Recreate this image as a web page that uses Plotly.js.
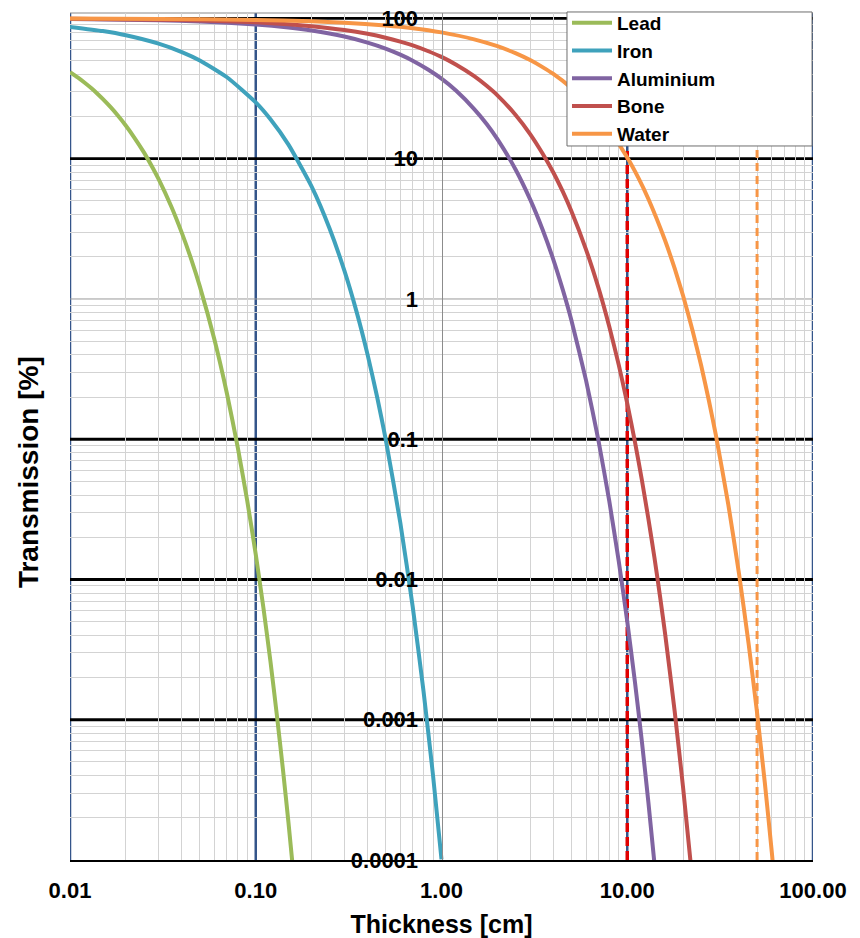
<!DOCTYPE html>
<html>
<head>
<meta charset="utf-8">
<script src="https://cdn.plot.ly/plotly-3.0.1.min.js"></script>
<style>html,body{margin:0;padding:0;background:#fff;}#chart{width:860px;height:938px;}</style>
</head>
<body>
<div id="chart"></div>
<script>
// ---- data (thickness in cm, transmission in %) ----
const seriesNames = ["Lead", "Iron", "Aluminium", "Bone", "Water"];
const seriesColors = ["#9BBB59", "#3FA2BC", "#8064A2", "#C0504D", "#F79646"];

const leadX = [0.01,0.011,0.012,0.013,0.014,0.015,0.0165,0.018,0.02,0.022,0.025,0.028,0.03,0.035,0.04,0.045,0.05,0.06,0.07,0.08,0.09,0.10,0.11,0.12,0.13,0.14,0.15,0.16];
const leadT = [41.5,38.0,34.8,31.9,29.2,26.7,23.4,20.5,17.2,14.4,11.1,8.51,7.14,4.6,2.96,1.91,1.23,0.509,0.211,0.0876,0.0363,0.0151,0.00626,0.0026,0.00107,0.000445,0.000185,0.0000767];

const ironX = [0.01,0.015,0.02,0.03,0.04,0.05,0.07,0.1,0.12,0.15,0.2,0.25,0.3,0.35,0.4,0.45,0.5,0.6,0.7,0.8,0.9,1.0];
const ironT = [87.1,81.3,75.9,66.1,57.6,50.2,38.1,25.2,19.1,12.6,6.33,3.17,1.59,0.799,0.401,0.201,0.101,0.0254,0.00638,0.0016,0.000403,0.000101];

const aluX = [0.01,0.03,0.05,0.1,0.15,0.2,0.3,0.4,0.5,0.6,0.7,0.85,1,1.2,1.5,1.75,2,2.5,3,3.5,4,4.5,5,6,7,8,9,10,11,12,13,14];
const aluT = [99.0,97.1,95.2,90.6,86.2,82.0,74.3,67.3,61.0,55.2,50.0,43.1,37.2,30.5,22.6,17.7,13.8,8.42,5.13,3.13,1.91,1.16,0.708,0.263,0.0978,0.0363,0.0135,0.00502,0.00186,0.000692,0.000257,0.0000955];

const boneX = [0.01,0.03,0.05,0.1,0.15,0.2,0.3,0.4,0.5,0.6,0.7,0.85,1,1.2,1.5,1.75,2,2.5,3,3.5,4,4.5,5,6,7,8,9,10,11,12,13,14,15,16,18,20,22];
const boneT = [99.4,98.1,96.9,93.9,91.0,88.1,82.7,77.7,72.9,68.4,64.3,58.4,53.2,46.8,38.8,33.1,28.3,20.6,15.0,10.9,7.98,5.82,4.24,2.25,1.20,0.637,0.339,0.180,0.0957,0.0508,0.027,0.0144,0.00764,0.00407,0.00115,0.000324,0.000092];

const waterX = [0.01,0.03,0.1,0.2,0.3,0.5,0.7,1,1.5,2,2.5,3,3.5,4,5,6,7,8,10,11.5,13,16,18,20,22.5,25,27.5,30,35,40,45,50,55,60,62];
const waterT = [99.8,99.3,97.7,95.5,93.4,89.2,85.3,79.6,71.0,63.4,56.6,50.5,45.0,40.2,32.0,25.5,20.3,16.1,10.2,7.27,5.16,2.60,1.65,1.05,0.592,0.335,0.189,0.107,0.0342,0.0109,0.0035,0.00112,0.000358,0.000114,0.000072];

// vertical reference markers (dashed) at these thicknesses
const refLineX = [10, 50];
const refLineColors = ["#E00000", "#F79646"];

// axis ticks
const xTickVals = [0.01, 0.1, 1, 10, 100];
const xTickText = ["0.01", "0.10", "1.00", "10.00", "100.00"];
const yTickVals = [0.0001, 0.001, 0.01, 0.1, 1, 10, 100];
const yTickText = ["0.0001", "0.001", "0.01", "0.1", "1", "10", "100"];

// ---- build figure ----
const FONT = "'Liberation Sans', Arial, sans-serif";
const xs = [leadX, ironX, aluX, boneX, waterX];
const ys = [leadT, ironT, aluT, boneT, waterT];

const yRange = [-4, 2.039];
const traces = [];
refLineX.forEach((v, i) => {
  traces.push({
    x: [v, v], y: [Math.pow(10, yRange[0]), Math.pow(10, yRange[1])],
    mode: "lines", showlegend: false, hoverinfo: "skip",
    line: {color: refLineColors[i], width: i === 0 ? 3.5 : 3, dash: i === 0 ? "9px,5px" : "8px,5px"}
  });
});
seriesNames.forEach((n, i) => {
  traces.push({
    x: xs[i], y: ys[i], name: n, mode: "lines",
    line: {color: seriesColors[i], width: 4, shape: "spline", smoothing: 0.5}
  });
});

// minor gridline positions (2..9 in each decade)
const minorX = [], minorY = [];
for (let e = -2; e < 2; e++) for (let k = 2; k <= 9; k++) minorX.push(k * Math.pow(10, e));
for (let e = -4; e < 2; e++) for (let k = 2; k <= 9; k++) minorY.push(k * Math.pow(10, e));

const shapes = [];
[0.01, 0.1, 10, 100].forEach(v => shapes.push({type: "line", xref: "x", yref: "paper", x0: v, x1: v, y0: 0, y1: 1, layer: "below", line: {color: "#34558A", width: 2.5}}));
[100, 10, 0.1, 0.01, 0.001].forEach(v => shapes.push({type: "line", xref: "paper", yref: "y", x0: 0, x1: 1, y0: v, y1: v, layer: "below", line: {color: "#000000", width: 2.8}}));
shapes.push({type: "line", xref: "paper", yref: "y", x0: 0, x1: 1, y0: 1, y1: 1, layer: "below", line: {color: "#9a9a9a", width: 1}});
shapes.push({type: "line", xref: "paper", yref: "paper", x0: 0, x1: 1, y0: 1, y1: 1, layer: "below", line: {color: "#8a8a8a", width: 1}});
// legend frame: white box above the curves, under the legend entries
shapes.push({type: "rect", xref: "paper", yref: "paper", x0: 0.6689, x1: 0.9987, y0: 0.8430, y1: 1.0012, layer: "above", fillcolor: "#ffffff", line: {color: "#6e6e6e", width: 1}});

const layout = {
  width: 860, height: 938,
  margin: {l: 70, r: 47, t: 13, b: 78, pad: 0, autoexpand: false},
  paper_bgcolor: "#ffffff", plot_bgcolor: "#ffffff",
  font: {family: FONT, color: "#000000"},
  showlegend: true,
  legend: {
    x: 0.6689, y: 1.0106, xanchor: "left", yanchor: "top",
    bgcolor: "rgba(0,0,0,0)", borderwidth: 0,
    font: {family: FONT, size: 19, color: "#000000", weight: "bold"},
    itemwidth: 40, tracegroupgap: 0
  },
  xaxis: {
    type: "log", range: [-2, 2], autorange: false,
    tickmode: "array", tickvals: xTickVals, ticktext: xTickText,
    tickfont: {family: FONT, size: 22, color: "#000000", weight: "bold"},
    ticks: "outside", ticklen: 10, tickcolor: "rgba(0,0,0,0)",
    showgrid: false, zeroline: false,
    showline: true, linecolor: "#000000", linewidth: 2,
    minor: {tickmode: "array", tickvals: minorX, showgrid: true, gridcolor: "#d3d3d3", gridwidth: 1, ticks: ""},
    title: {text: "Thickness [cm]", font: {family: FONT, size: 25, color: "#000000", weight: "bold"}, standoff: 14},
    automargin: false
  },
  yaxis: {
    type: "log", range: yRange, autorange: false,
    anchor: "free", position: 0.5,
    tickmode: "array", tickvals: yTickVals, ticktext: yTickText,
    tickfont: {family: FONT, size: 22, color: "#000000", weight: "bold"},
    ticks: "outside", ticklen: 19, tickcolor: "rgba(0,0,0,0)",
    showgrid: false, zeroline: false,
    showline: true, linecolor: "#8c8c8c", linewidth: 1,
    minor: {tickmode: "array", tickvals: minorY, showgrid: true, gridcolor: "#d3d3d3", gridwidth: 1, ticks: ""},
    automargin: false
  },
  shapes: shapes,
  annotations: [
    {
      text: "Transmission [%]", xref: "paper", yref: "paper",
      x: -0.0565, y: 0.458, xanchor: "center", yanchor: "middle",
      textangle: -90, showarrow: false,
      font: {family: FONT, size: 28, color: "#000000", weight: "bold"}
    }
  ]
};

Plotly.newPlot("chart", traces, layout, {displayModeBar: false, staticPlot: true});
</script>
</body>
</html>
